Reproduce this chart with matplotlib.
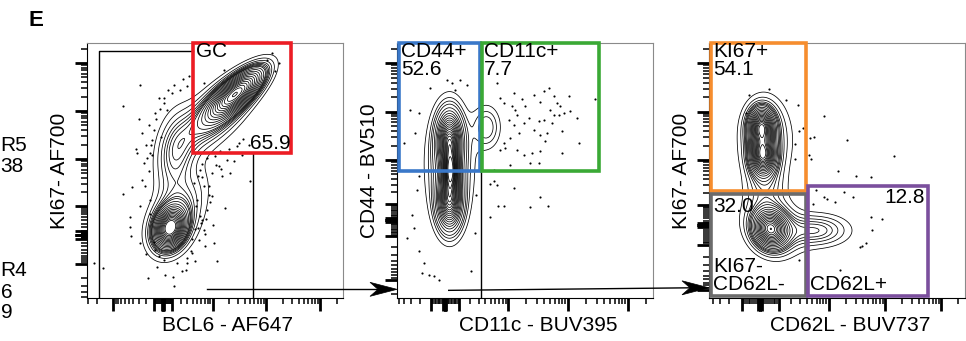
import numpy as np
import matplotlib.pyplot as plt
from matplotlib.patches import Rectangle, Polygon
from matplotlib.transforms import IdentityTransform

plt.rcParams['font.family'] = ['Liberation Sans', 'DejaVu Sans']

# ---------------- data (arbitrary biex channel units, 0-100) ----------------
# panel 1 : BCL6 vs KI67, gaussian components of the contour density
p1_mx = [32.5, 33.5, 58.5, 50.0, 34.5, 42.0]
p1_my = [27.5, 30.0, 80.5, 72.0, 56.0, 42.0]
p1_sx = [3.5, 6.5, 6.5, 9.0, 5.0, 6.0]
p1_sy = [4.5, 8.5, 6.0, 9.0, 11.0, 9.0]
p1_rho = [0.2, 0.3, 0.75, 0.65, 0.2, 0.4]
p1_w = [0.20, 0.14, 0.30, 0.20, 0.12, 0.03]
p1_dots_x = [14.1, 20.8, 20.4, 19.3, 14.1, 17.6, 16.9, 16.7, 17.3, 6.1, 2.9, 20.8, 23.2, 23.7,
             33.6, 34.1, 38.8, 42.3, 50.8, 49.5, 49.2, 46.9, 54.0, 52.7, 63.5, 57.3, 60.5, 54.7,
             51.4, 44.3, 45.6, 47.5, 72.3, 74.9, 73.6, 70.3, 53.6, 45.6, 39.1, 33.2, 28.0, 31.3,
             26.7, 24.1, 21.5, 25.4, 22.1, 24.1, 21.5, 24.7, 20.8, 26.7, 39.1, 43.6, 45.6, 44.3,
             43.0, 41.7, 48.8, 56.0, 63.2, 59.2, 19.5, 29.9, 36.5, 24.7, 46.2, 41.0, 29.9, 35.2,
             28.0, 42.5, 44.8, 46.0, 47.8, 45.0, 43.2, 50.2, 52.5, 49.0, 25.5, 23.0, 22.8, 24.5,
             27.0, 28.5, 30.0, 26.0, 25.0, 23.5, 29.0, 31.5, 34.0, 37.5, 40.0, 42.0, 44.5, 46.5,
             48.0, 41.0, 43.5, 45.0, 47.0, 40.5, 39.0, 52.0, 55.5, 58.5, 61.0, 50.0, 27.5, 26.0,
             37.0, 30.5]
p1_dots_y = [75.2, 83.4, 70.2, 58.4, 40.9, 43.5, 31.8, 27.8, 24.2, 11.8, 13.7, 21.6, 17.4, 7.8,
             8.2, 4.8, 11.1, 14.4, 14.4, 21.6, 28.8, 34.6, 35.3, 47.7, 45.8, 53.6, 56.2, 54.2,
             51.6, 50.3, 43.8, 40.5, 96.1, 92.2, 88.9, 93.5, 89.5, 84.3, 83.0, 80.4, 78.4, 73.9,
             72.5, 68.0, 64.7, 62.1, 52.9, 49.7, 46.4, 38.6, 35.9, 19.0, 13.7, 22.9, 26.8, 32.0,
             38.6, 45.1, 49.0, 49.0, 60.1, 60.8, 56.9, 76.5, 81.7, 56.9, 20.3, 17.6, 15.0, 13.7,
             16.3, 36.0, 30.5, 25.0, 44.0, 47.5, 27.5, 52.0, 50.5, 40.0, 56.0, 60.0, 44.0, 33.0,
             70.0, 74.0, 78.5, 66.0, 60.0, 55.0, 63.0, 81.5, 83.5, 86.0, 87.0, 27.0, 29.5, 31.0,
             37.5, 23.0, 48.0, 52.5, 55.0, 18.5, 15.5, 57.5, 58.5, 59.5, 62.5, 55.5, 12.0, 22.0,
             10.5, 9.0]

# panel 2 : CD11c vs CD44
p2_mx = [20.5, 20.5, 20.5, 21.0, 35.0]
p2_my = [62.0, 38.0, 52.0, 50.0, 67.0]
p2_sx = [3.0, 3.0, 5.5, 2.0, 3.5]
p2_sy = [7.0, 7.0, 14.0, 5.0, 5.5]
p2_rho = [0.0, 0.0, 0.0, 0.0, 0.0]
p2_w = [0.28, 0.28, 0.30, 0.10, 0.05]
p2_dots_x = [39.1, 45.6, 53.4, 57.3, 59.2, 61.2, 67.1, 77.5, 48.8, 40.4, 41.7, 44.9, 50.1, 56.0,
             62.5, 63.8, 67.7, 70.3, 59.9, 61.2, 63.2, 65.1, 57.3, 55.3, 51.4, 46.9, 43.6, 45.6,
             49.5, 60.5, 64.5, 58.6, 56.0, 53.4, 47.5, 44.3, 41.7, 40.4, 46.9, 49.5, 52.7, 56.0,
             57.9, 64.5, 71.0, 52.1, 55.3, 44.3, 42.3, 46.2, 37.8, 39.1, 36.2, 45.6, 56.0, 58.9,
             51.8, 41.7, 39.5, 36.5, 37.8, 5.2, 2.6, 7.2, 8.5, 8.5, 7.8, 5.9, 6.5, 3.9, 8.5,
             10.4, 12.4, 14.3, 16.3, 19.5, 21.5, 24.7, 27.3, 22.8, 13.0, 30.6, 28.9, 31.0, 9.8]
p2_dots_y = [84.3, 80.4, 79.7, 81.0, 82.4, 79.1, 79.3, 78.0, 78.0, 78.4, 76.5, 75.2, 75.2, 76.7,
             76.5, 75.2, 73.2, 70.6, 73.9, 71.9, 71.9, 72.5, 69.9, 69.3, 70.6, 71.9, 69.9, 68.0,
             68.6, 68.6, 65.4, 64.7, 64.1, 66.0, 64.7, 62.7, 60.8, 58.2, 58.2, 56.2, 56.9, 57.5,
             61.4, 56.9, 60.8, 52.9, 52.9, 52.3, 58.8, 73.9, 45.8, 44.4, 44.7, 43.1, 39.6, 35.9,
             35.7, 35.9, 35.9, 31.8, 50.3, 73.9, 60.8, 64.7, 72.5, 47.7, 42.5, 32.7, 27.5, 23.5,
             18.3, 13.7, 9.2, 8.5, 7.2, 85.6, 84.3, 85.6, 83.7, 81.7, 82.4, 25.5, 10.5, 40.5, 9.8]

# panel 3 : CD62L vs KI67
p3_mx = [20.5, 21.0, 22.0, 24.0, 25.0, 42.0, 22.0]
p3_my = [67.0, 56.0, 62.0, 27.0, 28.0, 26.5, 44.0]
p3_sx = [3.0, 3.0, 6.0, 4.0, 7.0, 8.0, 5.0]
p3_sy = [4.5, 4.5, 10.0, 4.5, 7.0, 4.0, 6.0]
p3_rho = [0.0, 0.0, 0.0, -0.1, -0.2, 0.0, 0.0]
p3_w = [0.17, 0.17, 0.18, 0.20, 0.14, 0.09, 0.05]
p3_dots_x = [23.4, 30.2, 34.9, 44.9, 35.2, 36.7, 39.5, 41.0, 33.6, 54.0, 39.1, 39.7, 33.6, 72.3,
             50.5, 57.3, 63.4, 41.7, 44.9, 46.2, 49.1, 52.7, 56.4, 40.6, 63.2, 67.7, 63.8, 61.2,
             59.9, 58.9, 51.0, 35.2, 15.6, 14.3]
p3_dots_y = [82.0, 77.5, 75.8, 71.5, 65.4, 66.7, 62.7, 63.0, 60.5, 62.1, 56.2, 54.5, 54.5, 55.6,
             49.9, 47.7, 47.3, 42.5, 39.6, 39.0, 37.6, 41.4, 39.6, 36.9, 31.8, 31.0, 26.8, 21.6,
             20.5, 20.0, 11.1, 15.0, 79.7, 72.5]

# axis labels
x_labels = ['BCL6 - AF647', 'CD11c - BUV395', 'CD62L - BUV737']
y_labels = ['KI67- AF700', 'CD44 - BV510', 'KI67- AF700']

# visible ends of the neighbouring panel's row labels
side_labels = ['R5', '38', 'R4', '6', '9']


def mixture(X, Y, mx, my, sx, sy, rho, w):
    Z = np.zeros_like(X)
    for a, b, s, t, r, k in zip(mx, my, sx, sy, rho, w):
        dx = (X - a) / s
        dy = (Y - b) / t
        q = (dx**2 - 2*r*dx*dy + dy**2) / (1 - r**2)
        Z += k * np.exp(-0.5*q) / (2*np.pi*s*t*np.sqrt(1 - r**2))
    return Z


def prob_levels(Z, step=0.045):
    z = np.sort(Z.ravel())[::-1]
    c = np.cumsum(z)
    c /= c[-1]
    fr = np.arange(step, 0.985, step)
    return np.unique(z[np.searchsorted(c, fr)])


def flow_ticks(ax, which, zero, dec):
    # biexponential style ticks, top of scale = 262144
    w = 262144 / np.sinh((100 - zero) / dec * np.log(10))
    pos = lambda v: zero + dec * np.arcsinh(v / w) / np.log(10)
    major, minor = [zero], []
    for k in range(0, 6):
        for m in range(1, 10):
            for s in (1, -1):
                p = pos(s * m * 10**k)
                if 0 <= p <= 100:
                    (major if m == 1 else minor).append(p)
    axis = ax.xaxis if which == 'x' else ax.yaxis
    axis.set_ticks(major)
    axis.set_ticks(minor, minor=True)


fig = plt.figure(figsize=(9.66, 3.41), dpi=100)
W, H = 966, 341
lefts = [87, 397, 709]
axes = [fig.add_axes([l / W, 43 / H, 256 / W, 255 / H]) for l in lefts]

g = np.linspace(0, 100, 400)
X, Y = np.meshgrid(g, g)
comps = [(p1_mx, p1_my, p1_sx, p1_sy, p1_rho, p1_w),
         (p2_mx, p2_my, p2_sx, p2_sy, p2_rho, p2_w),
         (p3_mx, p3_my, p3_sx, p3_sy, p3_rho, p3_w)]
dots = [(p1_dots_x, p1_dots_y), (p2_dots_x, p2_dots_y), (p3_dots_x, p3_dots_y)]
tick_setup = [((29.7, 21.1), (24.7, 18.8)),
              ((18.7, 23.4), (30.6, 19.0)),
              ((20.0, 22.0), (28.6, 19.0))]

for i, ax in enumerate(axes):
    Z = mixture(X, Y, *comps[i])
    ax.contour(X, Y, Z, levels=prob_levels(Z), colors='k', linewidths=0.55)
    ax.scatter(dots[i][0], dots[i][1], s=2.4, c='k', lw=0)
    ax.set_xlim(0, 100)
    ax.set_ylim(0, 100)
    (zx, dx), (zy, dy) = tick_setup[i]
    flow_ticks(ax, 'x', zx, dx)
    flow_ticks(ax, 'y', zy, dy)
    ax.tick_params(which='major', length=9, width=2.0, direction='out', color='k',
                   labelbottom=False, labelleft=False)
    ax.tick_params(which='minor', length=4.2, width=1.1, direction='out', color='k')
    for sp in ('top', 'right'):
        ax.spines[sp].set_color('#8a8a8a')
    for sp in ('left', 'bottom'):
        ax.spines[sp].set_color('k')
    ax.set_xlabel(x_labels[i], fontsize=15)
    ax.set_ylabel(y_labels[i], fontsize=15)
    ax.xaxis.set_label_coords(0.55, -0.07)
    ax.yaxis.set_label_coords(-0.07, 0.5)

ax1, ax2, ax3 = axes
gate_kw = dict(fill=False, lw=2.6, zorder=5, clip_on=False)
fs = 15

# panel 1 gates
ax1.plot([4.6, 4.6, 41.4], [0, 96.7, 96.7], color='k', lw=1.0)
ax1.plot([65.0, 65.0], [0, 56.9], color='k', lw=1.0)
ax1.add_patch(Rectangle((41.4, 56.9), 38.3, 43.1, ec='#ec1c24', **gate_kw))
ax1.text(42.6, 100.5, 'GC', ha='left', va='top', fontsize=fs, zorder=6)
ax1.text(79.5, 56.8, '65.9', ha='right', va='bottom', fontsize=fs, zorder=6)

# panel 2 gates
ax2.plot([32.8, 32.8], [0, 49.7], color='k', lw=1.0)
ax2.add_patch(Rectangle((0.8, 49.7), 31.5, 50.3, ec='#3a78c9', **gate_kw))
ax2.add_patch(Rectangle((33.2, 49.7), 45.6, 50.3, ec='#3aa935', **gate_kw))
ax2.text(1.6, 100.5, 'CD44+\n52.6', ha='left', va='top', fontsize=fs, linespacing=0.95, zorder=6)
ax2.text(34.0, 100.5, 'CD11c+\n7.7', ha='left', va='top', fontsize=fs, linespacing=0.95, zorder=6)

# panel 3 gates
ax3.add_patch(Rectangle((0.8, 41.8), 37.0, 58.2, ec='#f68d2e', **gate_kw))
ax3.add_patch(Rectangle((0.8, 0.9), 37.0, 40.0, ec='#6b6b6b', **gate_kw))
ax3.add_patch(Rectangle((38.7, 0.9), 47.0, 43.2, ec='#7b4f9d', **gate_kw))
ax3.text(1.6, 100.5, 'KI67+\n54.1', ha='left', va='top', fontsize=fs, linespacing=0.95, zorder=6)
ax3.text(1.6, 39.6, '32.0', ha='left', va='top', fontsize=fs, zorder=6)
ax3.text(1.6, 1.5, 'KI67-\nCD62L-', ha='left', va='bottom', fontsize=fs, linespacing=0.95, zorder=6)
ax3.text(84.5, 43.0, '12.8', ha='right', va='top', fontsize=fs, zorder=6)
ax3.text(39.3, 1.5, 'CD62L+', ha='left', va='bottom', fontsize=fs, zorder=6)


# arrows between panels (stealth heads drawn in display pixels)
def link(src_ax, src_xy, dst_ax, y_frac):
    fig.canvas.draw()
    x0, y0 = src_ax.transData.transform(src_xy)
    tx, ty = dst_ax.transAxes.transform((0, y_frac))
    fig.add_artist(plt.Line2D([x0, tx - 18], [y0, ty], color='k', lw=1.0,
                              transform=IdentityTransform()))
    head = [(tx, ty), (tx - 27, ty + 7), (tx - 19, ty), (tx - 27, ty - 7)]
    fig.add_artist(Polygon(head, closed=True, fc='k', ec='k', lw=0.5,
                           transform=IdentityTransform()))


link(ax1, (46.9, 3.4), ax2, 0.034)
link(ax2, (20.2, 3.0), ax3, 0.04)

fig.text(28 / W, 1 - 10 / H, 'E', fontsize=16, weight='bold', va='top', ha='left')

side_y = [145, 166, 271, 292, 313]
for t, yc in zip(side_labels, side_y):
    fig.text(0.5 / W, 1 - yc / H, t, fontsize=15, ha='left', va='center')

fig.savefig('out.png', dpi=100)
